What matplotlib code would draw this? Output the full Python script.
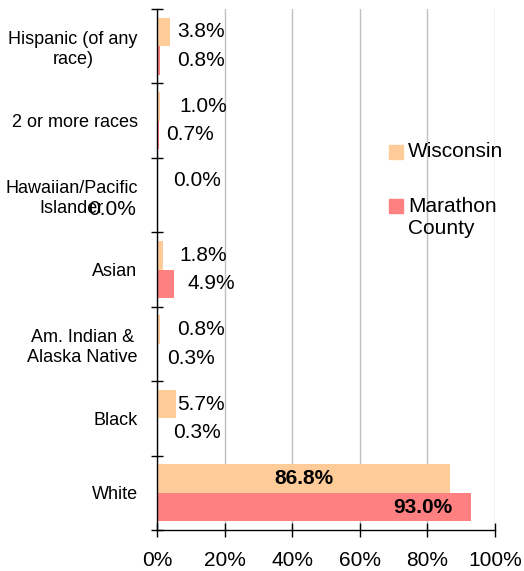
import matplotlib
matplotlib.use("Agg")
import matplotlib.pyplot as plt
from matplotlib.patches import Rectangle
from matplotlib.ticker import FixedLocator, FuncFormatter

plt.rcParams['font.family'] = ['Liberation Sans', 'DejaVu Sans']

categories = ["Hispanic (of any\nrace)", "2 or more races", "Hawaiian/Pacific\nIslander",
              "Asian", "Am. Indian &\nAlaska Native", "Black", "White"]
wisconsin = [3.8, 1.0, 0.0, 1.8, 0.8, 5.7, 86.8]
marathon = [0.8, 0.7, 0.0, 4.9, 0.3, 0.3, 93.0]
series_names = ["Wisconsin", "Marathon\nCounty"]
x_ticks = [0, 20, 40, 60, 80, 100]

# label placement (pixels from bar end) -- style only
wi_offsets = [7, 19, 16, 16, 17, 1, None]
mc_offsets = [17, 7, -69, 14, 9, 15, None]

c_wi = "#FFCC99"
c_mc = "#FF8080"

W, H = 524, 571
fig = plt.figure(figsize=(W / 100, H / 100), dpi=100)
ax = fig.add_axes([157 / W, 41 / H, (495 - 157) / W, (530 - 9) / H])

n = len(categories)
ys = list(range(n))
bh = 0.383
ax.barh([y - bh / 2 for y in ys], wisconsin, height=bh, color=c_wi, zorder=2)
ax.barh([y + bh / 2 for y in ys], marathon, height=bh, color=c_mc, zorder=2)

ax.set_xlim(0, 100)
ax.set_ylim(n - 0.5, -0.5)

fs_val = 15
for i in ys:
    for val, off, yy in ((wisconsin[i], wi_offsets[i], i - bh / 2),
                         (marathon[i], mc_offsets[i], i + bh / 2)):
        txt = f"{val:.1f}%"
        if off is not None:
            ax.annotate(txt, xy=(val, yy), xytext=(off, 0), textcoords='offset pixels',
                        ha='left', va='center', fontsize=fs_val, zorder=3)
# White (large values): inside bars, bold
ax.annotate(f"{wisconsin[6]:.1f}%", xy=(wisconsin[6] / 2, 6 - bh / 2), ha='center',
            va='center', fontsize=fs_val, fontweight='bold', zorder=3)
ax.annotate(f"{marathon[6]:.1f}%", xy=(marathon[6], 6 + bh / 2), xytext=(-19, 0),
            textcoords='offset pixels', ha='right', va='center', fontsize=fs_val,
            fontweight='bold', zorder=3)

# axes styling
for s in ('top', 'right'):
    ax.spines[s].set_visible(False)
for s in ('left', 'bottom'):
    ax.spines[s].set_color('black')
    ax.spines[s].set_linewidth(1)

ax.xaxis.set_major_locator(FixedLocator(x_ticks))
ax.xaxis.set_major_formatter(FuncFormatter(lambda v, p: f"{v:.0f}%"))
ax.tick_params(axis='x', direction='inout', length=10, width=1, labelsize=15, pad=10)
ax.grid(axis='x', color='#C0C0C0', linewidth=1, zorder=0)
ax.set_axisbelow(True)

ax.set_yticks(ys)
ax.set_yticklabels(categories, fontsize=13, multialignment='center')
ax.tick_params(axis='y', which='major', length=0, pad=14)
ax.yaxis.set_minor_locator(FixedLocator([i - 0.5 for i in range(n + 1)]))
ax.tick_params(axis='y', which='minor', direction='inout', length=8, width=1)

# legend drawn manually
for name, color, yc, yt in ((series_names[0], c_wi, 152, 152),
                            (series_names[1], c_mc, 206, 218)):
    fig.patches.append(Rectangle((389 / W, 1 - (yc + 7) / H), 14 / W, 14 / H,
                                 transform=fig.transFigure, color=color))
    fig.text(408 / W, 1 - yt / H, name, ha='left', va='center', fontsize=15,
             linespacing=1.2)

fig.savefig("out.png", dpi=100)
